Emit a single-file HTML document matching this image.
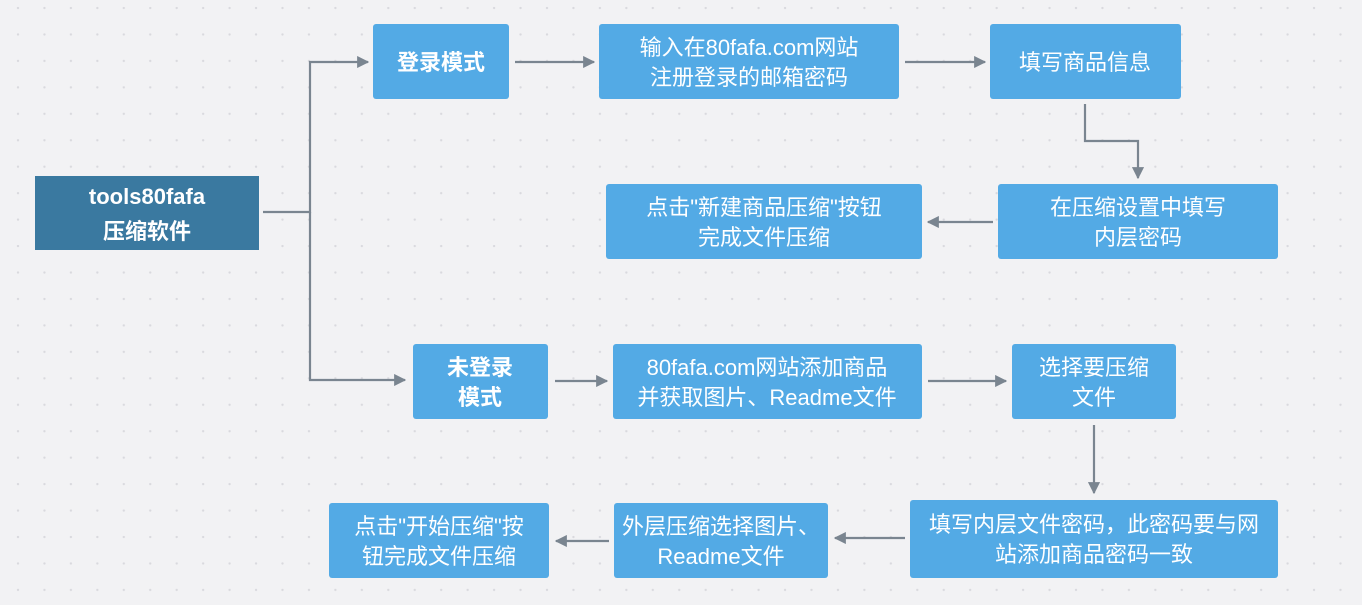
<!DOCTYPE html>
<html><head><meta charset="utf-8"><style>
html,body{margin:0;padding:0;background:#f2f2f4;}
svg{display:block}
text{font-family:"Liberation Sans","Noto Sans CJK SC",sans-serif;fill:#fff;font-size:22px;text-anchor:middle}
</style></head><body>
<svg width="1362" height="605" xmlns="http://www.w3.org/2000/svg">
<defs>
<pattern id="d" x="5" y="-5" width="26.45" height="26.45" patternUnits="userSpaceOnUse"><circle cx="13" cy="13" r="1.2" fill="#d9d9de"/></pattern>
<marker id="b" viewBox="0 0 10 10" refX="9" refY="5" markerWidth="5.5" markerHeight="5.5" orient="auto"><path d="M0,0L10,5L0,10z" fill="#7a8590"/></marker>
</defs>
<rect width="1362" height="605" fill="url(#d)"/>
<g stroke="#7a8590" stroke-width="2.2" fill="none" marker-end="url(#b)">
<path d="M263,212H310V62H368"/>
<path d="M310,212V380H405"/>
<path d="M515,62H594"/>
<path d="M905,62H985"/>
<path d="M1085,104V141H1138V178"/>
<path d="M993,222H928"/>
<path d="M555,381H607"/>
<path d="M928,381H1006"/>
<path d="M1094,425V493"/>
<path d="M905,538H835"/>
<path d="M609,541H556"/>
</g>
<rect x="35" y="176" width="224" height="74" fill="#3a79a0"/>
<text x="147" y="204" font-weight="bold" font-size="24">tools80fafa</text>
<text x="147" y="239" font-weight="bold" font-size="24">压缩软件</text>
<g fill="#53aae5">
<rect x="373" y="24" width="136" height="75" rx="3"/>
<rect x="599" y="24" width="300" height="75" rx="3"/>
<rect x="990" y="24" width="191" height="75" rx="3"/>
<rect x="998" y="184" width="280" height="75" rx="3"/>
<rect x="606" y="184" width="316" height="75" rx="3"/>
<rect x="413" y="344" width="135" height="75" rx="3"/>
<rect x="613" y="344" width="309" height="75" rx="3"/>
<rect x="1012" y="344" width="164" height="75" rx="3"/>
<rect x="910" y="500" width="368" height="78" rx="3"/>
<rect x="614" y="503" width="214" height="75" rx="3"/>
<rect x="329" y="503" width="220" height="75" rx="3"/>
</g>
<text x="441" y="70" font-weight="bold">登录模式</text>
<text x="749" y="55">输入在80fafa.com网站</text>
<text x="749" y="85">注册登录的邮箱密码</text>
<text x="1085" y="70">填写商品信息</text>
<text x="1138" y="215">在压缩设置中填写</text>
<text x="1138" y="245">内层密码</text>
<text x="764" y="215">点击"新建商品压缩"按钮</text>
<text x="764" y="245">完成文件压缩</text>
<text x="480" y="375" font-weight="bold">未登录</text>
<text x="480" y="405" font-weight="bold">模式</text>
<text x="767" y="375">80fafa.com网站添加商品</text>
<text x="767" y="405">并获取图片、Readme文件</text>
<text x="1094" y="375">选择要压缩</text>
<text x="1094" y="405">文件</text>
<text x="1094" y="532">填写内层文件密码，此密码要与网</text>
<text x="1094" y="562">站添加商品密码一致</text>
<text x="721" y="534">外层压缩选择图片、</text>
<text x="721" y="564">Readme文件</text>
<text x="439" y="534">点击"开始压缩"按</text>
<text x="439" y="564">钮完成文件压缩</text>
</svg>
</body></html>
